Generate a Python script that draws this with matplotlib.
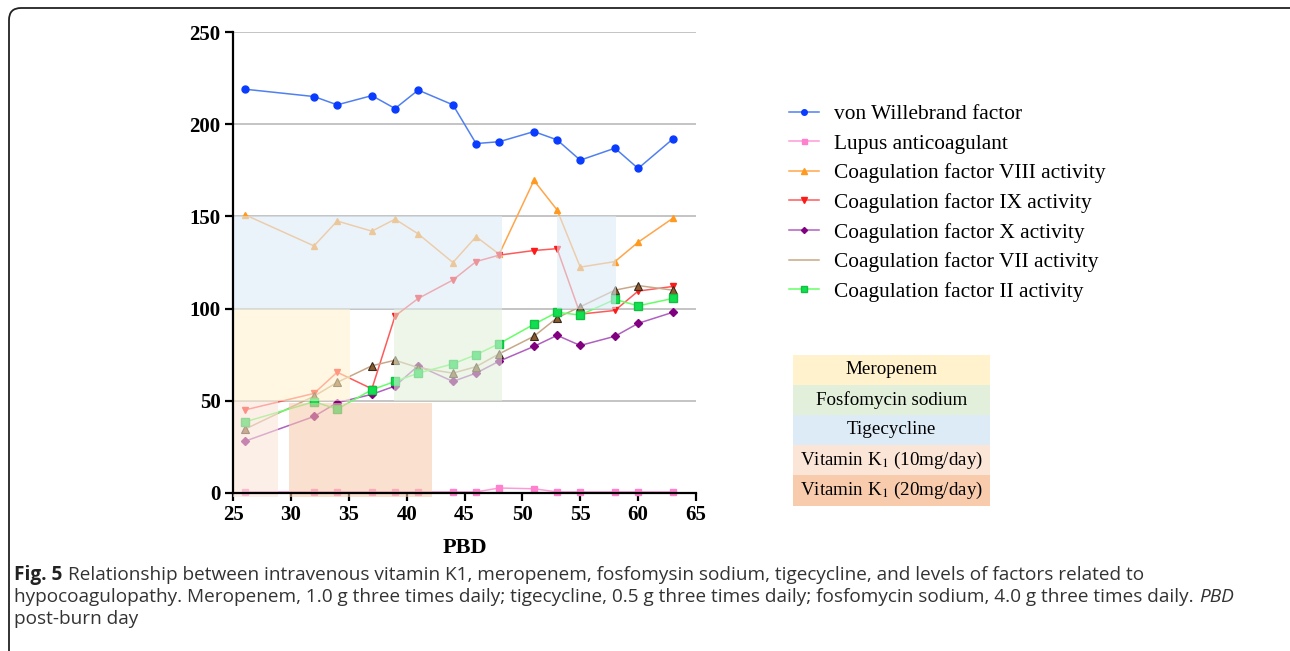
import matplotlib.pyplot as plt
from matplotlib.lines import Line2D
from matplotlib.patches import Rectangle, FancyBboxPatch
from matplotlib.transforms import IdentityTransform

plt.rcParams['mathtext.fontset'] = 'stix'

# post-burn days
days = [26, 32, 34, 37, 39, 41, 44, 46, 48, 51, 53, 55, 58, 60, 63]

vwf = [219, 215, 210.5, 215.5, 208.5, 218.5, 210.5, 189.5, 190.5, 196, 191.5, 180.5, 187, 176, 192]
lupus = [0.6, 0.6, 0.6, 0.6, 0.6, 0.6, 0.6, 0.6, 2.7, 2.3, 0.6, 0.6, 0.6, 0.6, 0.6]
f8 = [151, 134, 147.5, 142, 148.5, 140.5, 125, 139, 129.5, 169.5, 153.5, 122.5, 125.5, 136, 149]
f9 = [45, 54, 65.5, 56.5, 96, 105.5, 115.5, 125.5, 129, 131.5, 132.5, 97, 99, 109.5, 112]
f10 = [28, 41.5, 49, 53.5, 58, 69, 60.5, 65, 71.5, 79.5, 85.5, 80, 85, 92, 98]
f7 = [34.5, 52.5, 60, 69, 72, 68, 65, 68.5, 75.5, 85, 95, 101, 110, 112.5, 110]
f2 = [38.5, 49.5, 45.5, 56, 60.5, 65, 70, 75, 81, 91.5, 98, 96.5, 105, 101.5, 105.5]

series_labels = ['von Willebrand factor', 'Lupus anticoagulant',
                 'Coagulation factor VIII activity', 'Coagulation factor IX activity',
                 'Coagulation factor X activity', 'Coagulation factor VII activity',
                 'Coagulation factor II activity']

# drug periods (day from, day to, y band)
drug_names = ['Meropenem', 'Fosfomycin sodium', 'Tigecycline',
              'Vitamin K$_{1}$ (10mg/day)', 'Vitamin K$_{1}$ (20mg/day)']
drug_colors = ['#FFF2CC', '#E2EFDA', '#DDEBF7', '#FBE5D6', '#F8CBAD']
drug_periods = [[(25, 35.1)], [(38.9, 48.2)], [(25, 48.2), (53, 58.1)], [(25, 28.9)], [(29.8, 42.2)]]
drug_bands = [(50, 100), (50, 100), (100, 150), (-2, 50), (-2, 49)]

fig = plt.figure(figsize=(12.9, 6.51), dpi=100)
ax = fig.add_axes([233 / 1290, 158 / 651, 463 / 1290, 461 / 651])

styles = [
    dict(color='#5080F0', marker='o', mfc='#0A3CFF', mec='#0A3CFF', ms=5),
    dict(color='#FF9AD8', marker='s', mfc='#FF80CC', mec='#FF80CC', ms=4.5),
    dict(color='#FFA54A', marker='^', mfc='#FF9A20', mec='#FF9A20', ms=5),
    dict(color='#FF5A5A', marker='v', mfc='#FF1A1A', mec='#FF1A1A', ms=5),
    dict(color='#B060C0', marker='D', mfc='#800080', mec='#800080', ms=3.8),
    dict(color='#C8A888', marker='^', mfc='#8A5A30', mec='#3A2A1A', ms=5.5, mew=0.8),
    dict(color='#66FF66', marker='s', mfc='#10E050', mec='#10C040', ms=6),
]
all_series = [vwf, lupus, f8, f9, f10, f7, f2]
handles = []
for vals, st, lab in zip(all_series, styles, series_labels):
    ln, = ax.plot(days, vals, lw=1.1, zorder=2, clip_on=False, **st)
    handles.append(ln)

# shaded treatment periods drawn on top, like the original
for periods, band, col in zip(drug_periods, drug_bands, drug_colors):
    for d0, d1 in periods:
        ax.add_patch(Rectangle((d0, band[0]), d1 - d0, band[1] - band[0],
                               facecolor=col, edgecolor='none', alpha=0.58,
                               zorder=3, clip_on=False))

ax.set_xlim(25, 65)
ax.set_ylim(0, 250)
ax.set_xticks(range(25, 66, 5))
ax.set_yticks(range(0, 251, 50))
ax.yaxis.grid(True, color='#C4C4C4', lw=1.4)
ax.set_axisbelow(True)
for s in ['top', 'right']:
    ax.spines[s].set_visible(False)
for s in ['left', 'bottom']:
    ax.spines[s].set_linewidth(1.6)
    ax.spines[s].set_zorder(5)
ax.tick_params(length=6, width=1.6, labelsize=15, pad=3)
for lab in ax.get_xticklabels() + ax.get_yticklabels():
    lab.set_fontfamily('Liberation Serif')
    lab.set_fontweight('bold')
ax.set_xlabel('PBD', fontsize=16, fontweight='bold', family='Liberation Serif', labelpad=9)

# series legend
leg_handles = []
for h in handles:
    lh = Line2D([], [], color=h.get_color(), marker=h.get_marker(),
                mfc=h.get_markerfacecolor(), mec=h.get_markeredgecolor(),
                ms=h.get_markersize() * 0.8, lw=1.1)
    leg_handles.append(lh)
leg_handles[5].set_marker('None')
fig.legend(leg_handles, series_labels, loc='center left',
           bbox_to_anchor=(789 / 1290, 1 - 203 / 651), frameon=False,
           prop={'family': 'Liberation Serif', 'size': 15.4},
           handlelength=1.4, handletextpad=0.7, labelspacing=0.45,
           borderpad=0, borderaxespad=0)

# drug colour key
box_x0, box_x1 = 793, 990
row_tops = [355, 385, 415, 445, 475]
row_h = [30, 30, 30, 30, 31]
for name, col, top, h in zip(drug_names, drug_colors, row_tops, row_h):
    fig.patches.append(Rectangle((box_x0 / 1290, 1 - (top + h) / 651),
                                 (box_x1 - box_x0) / 1290, h / 651,
                                 transform=fig.transFigure, facecolor=col,
                                 edgecolor='none'))
    fig.text((box_x0 + box_x1) / 2 / 1290, 1 - (top + h / 2) / 651, name,
             ha='center', va='center', fontsize=13.7, family='Liberation Serif')

# frame around figure
frame = FancyBboxPatch((9, -60), 1400, 651 - 8 + 60,
                       boxstyle='round,pad=0,rounding_size=12',
                       transform=IdentityTransform(), facecolor='none',
                       edgecolor='#222222', lw=1.3)
fig.patches.append(frame)

# caption
cap_font = ['Open Sans', 'DejaVu Sans']
cap_size = 13.7
t1 = fig.text(14 / 1290, 1 - 575 / 651, 'Fig. 5', fontsize=cap_size, fontweight='bold',
              family=cap_font, va='center', color='#222222')
ax.annotate('Relationship between intravenous vitamin K1, meropenem, fosfomysin sodium, '
            'tigecycline, and levels of factors related to',
            xy=(1, 0.5), xycoords=t1, xytext=(4, 0), textcoords='offset points',
            va='center', ha='left', fontsize=cap_size, family=cap_font, color='#333333',
            annotation_clip=False)
t2 = fig.text(14 / 1290, 1 - 597 / 651,
              'hypocoagulopathy. Meropenem, 1.0 g three times daily; tigecycline, 0.5 g '
              'three times daily; fosfomycin sodium, 4.0 g three times daily.',
              fontsize=cap_size, family=cap_font, va='center', color='#333333')
ax.annotate('PBD', xy=(1, 0.5), xycoords=t2, xytext=(4, 0), textcoords='offset points',
            va='center', ha='left', fontsize=cap_size, family=cap_font, style='italic',
            color='#333333', annotation_clip=False)
fig.text(14 / 1290, 1 - 619 / 651, 'post-burn day', fontsize=cap_size, family=cap_font,
         va='center', color='#333333')

fig.savefig('out.png', dpi=100)
plt.close(fig)
